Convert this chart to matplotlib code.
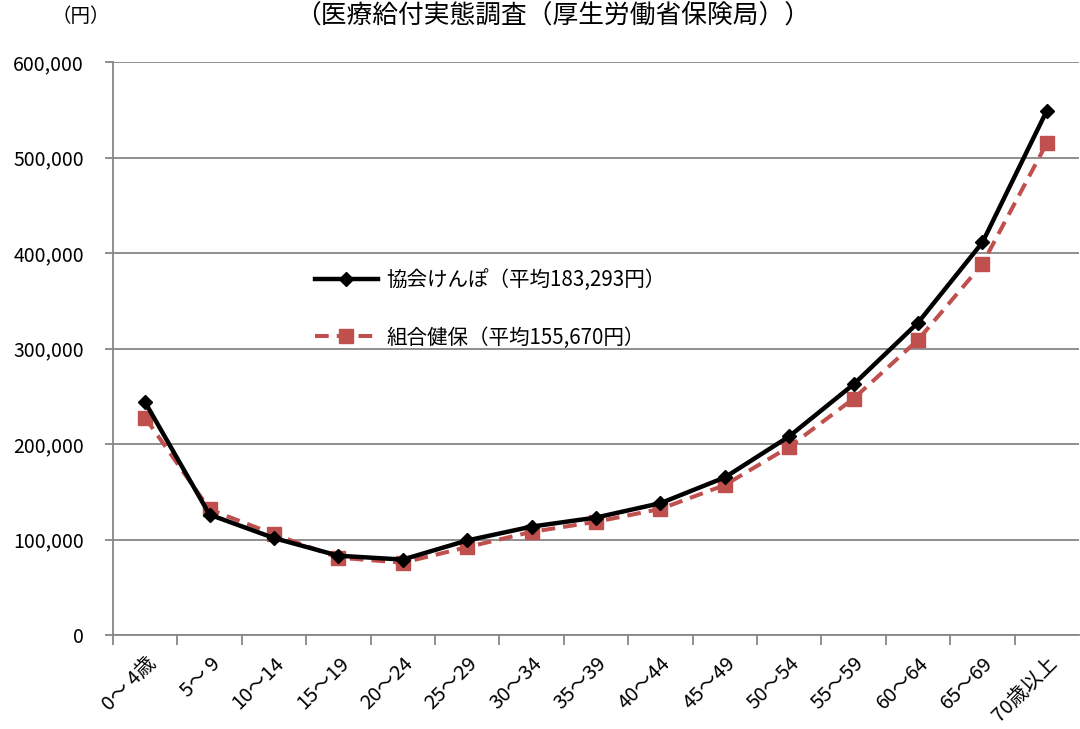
import matplotlib
matplotlib.use("Agg")
import matplotlib.pyplot as plt
import numpy as np
from matplotlib.ticker import FuncFormatter, FixedLocator

plt.rcParams['font.family'] = ['Noto Sans CJK JP', 'DejaVu Sans']

categories = ["0～ 4歳", "5～ 9", "10～14", "15～19", "20～24", "25～29", "30～34",
              "35～39", "40～44", "45～49", "50～54", "55～59", "60～64", "65～69", "70歳以上"]
kyokai = [243500, 126000, 101500, 83000, 79000, 99000, 113500, 123000,
          138000, 165000, 208000, 262500, 327000, 411000, 549000]
kumiai = [227500, 131500, 105500, 81000, 75700, 92000, 108000, 118500,
          132000, 157000, 197000, 247500, 309000, 388500, 515000]
label_kyokai = "協会けんぽ（平均183,293円）"
label_kumiai = "組合健保（平均155,670円）"
title = "（医療給付実態調査（厚生労働省保険局））"
unit = "（円）"
yticks = [0, 100000, 200000, 300000, 400000, 500000, 600000]

W, H = 1080, 729
fig = plt.figure(figsize=(W / 100, H / 100), dpi=100)
ax = fig.add_axes([113 / W, (H - 635) / H, (1079 - 113) / W, (635 - 62) / H])

x = np.arange(len(categories))
grid_c = "#878787"

ax.plot(x, kyokai, color="black", lw=3.2, marker="D", ms=7.5, mfc="black", mec="black",
        label=label_kyokai, zorder=4, solid_joinstyle="miter")
ax.plot(x, kumiai, color="#C0504D", lw=2.9, ls=(0, (3.4, 2.0)), marker="s", ms=10,
        mfc="#C0504D", mec="#C0504D", label=label_kumiai, zorder=3)

ax.set_xlim(-0.5, len(categories) - 0.5)
ax.set_ylim(0, 600000)
ax.set_yticks(yticks)
ax.yaxis.set_major_formatter(FuncFormatter(lambda v, p: f"{int(v):,}"))
ax.grid(axis="y", color=grid_c, lw=1.3)
ax.set_axisbelow(True)

for s in ["top", "right"]:
    ax.spines[s].set_visible(False)
for s in ["left", "bottom"]:
    ax.spines[s].set_color(grid_c)
    ax.spines[s].set_linewidth(1.3)

ax.set_xticks(x)
ax.set_xticklabels(categories, rotation=45, ha="right", va="top", rotation_mode="anchor",
                   fontsize=14.5)
ax.tick_params(axis="x", which="major", length=0, pad=13)
ax.xaxis.set_minor_locator(FixedLocator(np.arange(-0.5, len(categories) - 0.5, 1.0)))
ax.tick_params(axis="x", which="minor", length=7, color=grid_c, width=1.3)
ax.tick_params(axis="y", length=6, color=grid_c, width=1.3, labelsize=14, pad=15)

fig.text(553 / W, 1 - 17 / H, title, ha="center", va="center", fontsize=18.5)
fig.text(81 / W, 1 - 17 / H, unit, ha="center", va="center", fontsize=14)

leg = ax.legend(loc="upper left", bbox_to_anchor=((318 - 113) / (1079 - 113) - 0.012, (635 - 261) / (635 - 62)),
                frameon=False, fontsize=14.8, handlelength=3.1, handletextpad=0.4,
                labelspacing=1.72, borderaxespad=0)

fig.savefig("out.png", dpi=100)
